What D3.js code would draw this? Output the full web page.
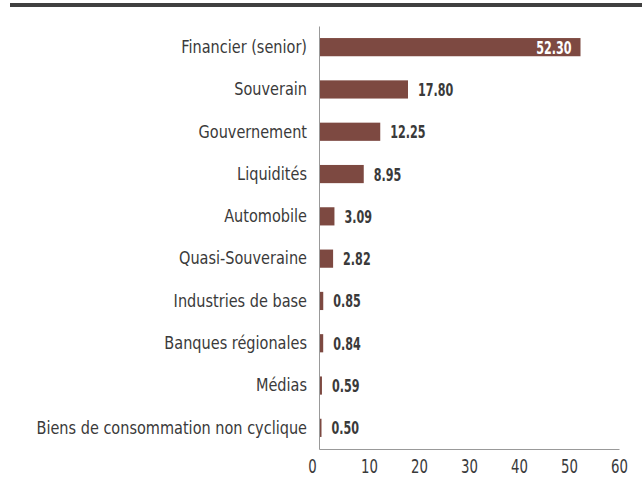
<!DOCTYPE html>
<html>
<head>
<meta charset="utf-8">
<script src="https://cdn.jsdelivr.net/npm/d3@7"></script>
<style>
  body { margin: 0; background: #fff; }
  .chart text { font-family: "Liberation Sans Narrow", "DejaVu Sans Condensed", sans-serif; }
</style>
</head>
<body>
<div class="chart"></div>
<script>
const categories = [
    'Financier (senior)', 'Souverain', 'Gouvernement', 'Liquidités', 'Automobile',
    'Quasi-Souveraine', 'Industries de base', 'Banques régionales', 'Médias',
    'Biens de consommation non cyclique'
]
const values = [52.30, 17.80, 12.25, 8.95, 3.09, 2.82, 0.85, 0.84, 0.59, 0.50]
const xTicks = [0, 10, 20, 30, 40, 50, 60]

const data = categories.map((c, i) => ({ name: c, value: values[i] }))

const fullWidth = 642, fullHeight = 479
const margin = { top: 26, right: 23, bottom: 30, left: 319 }
const width = fullWidth - margin.left - margin.right
const height = fullHeight - margin.top - margin.bottom
const barColour = '#7d4941'
const textColour = '#3a3a3a'
const axisColour = '#999'

// squeeze text horizontally (the original uses a condensed face)
function condense(sel, k) {
    sel.each(function () {
        let t = d3.select(this)
        let x = +t.attr('x') || 0
        t.attr('x', x / k).attr('transform', `scale(${k},1)`)
    })
}

const svg = d3.select('.chart')
    .append('svg')
    .attr('width', fullWidth)
    .attr('height', fullHeight)

// thick rule across the top
svg.append('line')
    .attr('x1', 10).attr('x2', fullWidth)
    .attr('y1', 5).attr('y2', 5)
    .style('stroke', '#404040')
    .style('stroke-width', 4)

const g = svg.append('g')
    .attr('transform', `translate(${margin.left}, ${margin.top})`)

const xScale = d3.scaleLinear()
    .domain([0, 60])
    .range([0, width])

const yScale = d3.scaleBand()
    .domain(categories)
    .range([0, height])
    .paddingInner(0.57)
    .paddingOuter(0.285)

// bars
g.selectAll('.bar')
    .data(data)
    .enter().append('rect')
    .attr('class', 'bar')
    .attr('x', 0)
    .attr('y', d => yScale(d.name))
    .attr('width', d => Math.max(xScale(d.value), 2.5))
    .attr('height', yScale.bandwidth())
    .style('fill', barColour)

// value labels, the longest one sits inside its bar
const vals = g.selectAll('.val')
    .data(data)
    .enter().append('text')
    .attr('class', 'val')
    .attr('x', d => d.value > 40 ? xScale(d.value) - 9 : Math.max(xScale(d.value), 2.5) + 10)
    .attr('y', d => yScale(d.name) + yScale.bandwidth() / 2)
    .attr('dy', '0.36em')
    .attr('text-anchor', d => d.value > 40 ? 'end' : 'start')
    .style('font-size', '18px')
    .style('font-weight', 'bold')
    .style('fill', d => d.value > 40 ? '#fff' : textColour)
    .text(d => d.value.toFixed(2))
condense(vals, 0.69)

// category labels
const yAxis = d3.axisLeft(yScale).tickSize(0).tickPadding(12)
const gY = g.append('g')
    .attr('class', 'yaxis')
    .call(yAxis)
gY.select('.domain').style('stroke', axisColour)
gY.selectAll('.tick text')
    .style('font-size', '18px')
    .style('fill', textColour)
condense(gY.selectAll('.tick text'), 0.895)

// value axis
const xAxis = d3.axisBottom(xScale).tickValues(xTicks).tickSize(0).tickPadding(10)
const gX = g.append('g')
    .attr('class', 'xaxis')
    .attr('transform', `translate(0, ${height})`)
    .call(xAxis)
gX.select('.domain').style('stroke', axisColour)
gX.selectAll('.tick text')
    .style('font-size', '20px')
    .style('fill', textColour)
// the zero label sits a little left of the axis in the original
gX.selectAll('.tick text').filter(d => d === 0).attr('x', -7)
condense(gX.selectAll('.tick text'), 0.74)
</script>
</body>
</html>
